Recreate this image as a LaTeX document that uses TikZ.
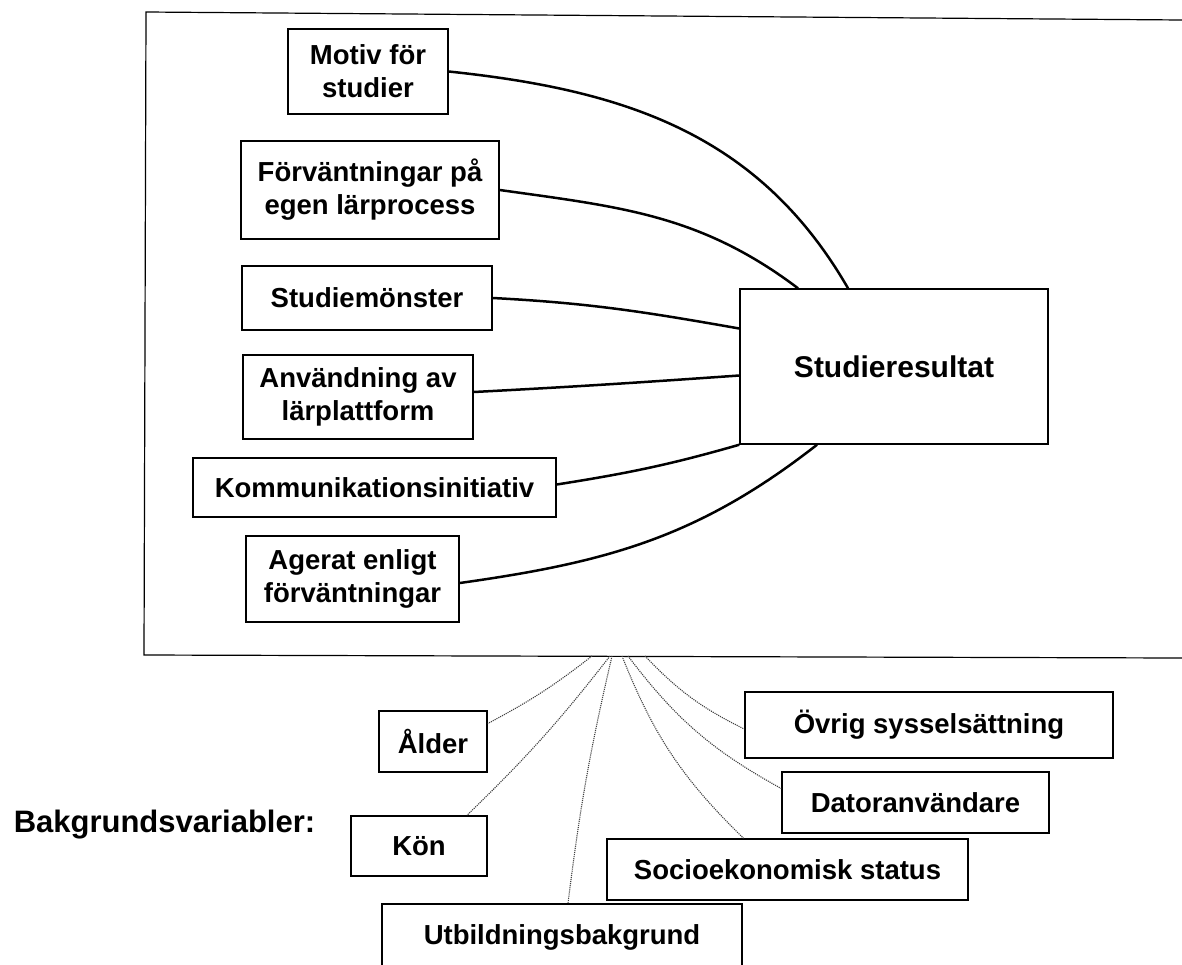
\documentclass[tikz,border=0pt]{standalone}
\usepackage{fontspec}
\setmainfont{Liberation Sans}
\usetikzlibrary{positioning}

\begin{document}
\begin{tikzpicture}[x=1pt, y=1pt, semithick,
box/.style ={ rectangle, draw, line width=1.5pt, inner sep=0pt, align=center,
font=\bfseries\fontsize{27.5}{33}\selectfont},
resbox/.style ={ box, font=\bfseries\fontsize{30}{36}\selectfont},
link/.style ={ line width=2.5pt},
bgline/.style ={ densely dotted, line width=1.1pt, black!75}]
\clip (0,0) rectangle (1182,-964);
\draw[line width=1.2pt] (1182,-20) -- (146,-12) -- (144,-655) -- (1182,-658);

\node[box, minimum width=160pt, minimum height=85pt] (Motiv) at (368,-71.5) {Motiv för\\studier};
\node[box, minimum width=258pt, minimum height=98pt] (Forv) at (370,-190) {Förväntningar på\\egen lärprocess};
\node[box, minimum width=250pt, minimum height=64pt] (Monster) at (367,-298) {Studiemönster};
\node[box, minimum width=230pt, minimum height=84pt] (Anv) at (358,-397) {Användning av\\lärplattform};
\node[box, minimum width=363pt, minimum height=59pt] (Komm) at (374.5,-487.5) {Kommunikationsinitiativ};
\node[box, minimum width=213pt, minimum height=86pt] (Agerat) at (352.5,-579) {Agerat enligt\\förväntningar};
\node[resbox, minimum width=308pt, minimum height=155pt] (Res) at (894,-366.5) {Studieresultat};

\node[font=\bfseries\fontsize{31}{37}\selectfont, anchor=base] (Bakgrund) at (164.5,-832) {Bakgrundsvariabler:};
\node[box, minimum width=108pt, minimum height=61pt] (Alder) at (433,-741.5) {Ålder};
\node[box, minimum width=136pt, minimum height=60pt] (Kon) at (419,-846) {Kön};
\node[box, minimum width=360pt, minimum height=66pt] (Utb) at (562,-937) {Utbildningsbakgrund};
\node[box, minimum width=361pt, minimum height=61pt] (Socio) at (787.5,-869.5) {Socioekonomisk status};
\node[box, minimum width=267pt, minimum height=61pt] (Dator) at (915.5,-802.5) {Datoranvändare};
\node[box, minimum width=368pt, minimum height=66pt] (Ovrig) at (929,-725) {Övrig sysselsättning};

\coordinate (fAlder) at (592,-656);
\coordinate (fKon) at (610,-656);
\coordinate (fUtb) at (612,-656);
\coordinate (fSocio) at (622,-656);
\coordinate (fDator) at (628,-656);
\coordinate (fOvrig) at (645,-656);

\path (Motiv.east) edge[link, out=-6, in=120] ([xshift=-46pt]Res.north);
\path (Forv.east) edge[link, out=-8, in=143] ([xshift=-96pt]Res.north);
\path (Monster.east) edge[link, out=-3, in=170] ([yshift=38pt]Res.west);
\path ([yshift=5pt]Anv.east) edge[link, out=3, in=184] ([yshift=-9pt]Res.west);
\path ([yshift=3pt]Komm.east) edge[link, out=9, in=196] (Res.south west);
\path ([yshift=-4pt]Agerat.east) edge[link, out=8, in=218] ([xshift=-77pt]Res.south);

\path (fAlder) edge[bgline, bend left=5] ([yshift=18pt]Alder.east);
\path (fKon) edge[bgline, bend left=4] ([xshift=48pt]Kon.north);
\path (fUtb) edge[bgline, bend right=3] ([xshift=6pt]Utb.north);
\path (fSocio) edge[bgline, bend right=12] ([xshift=-44pt]Socio.north);
\path (fDator) edge[bgline, bend right=12] ([yshift=14pt]Dator.west);
\path (fOvrig) edge[bgline, bend right=10] ([yshift=-4pt]Ovrig.west);
\end{tikzpicture}
\end{document}
